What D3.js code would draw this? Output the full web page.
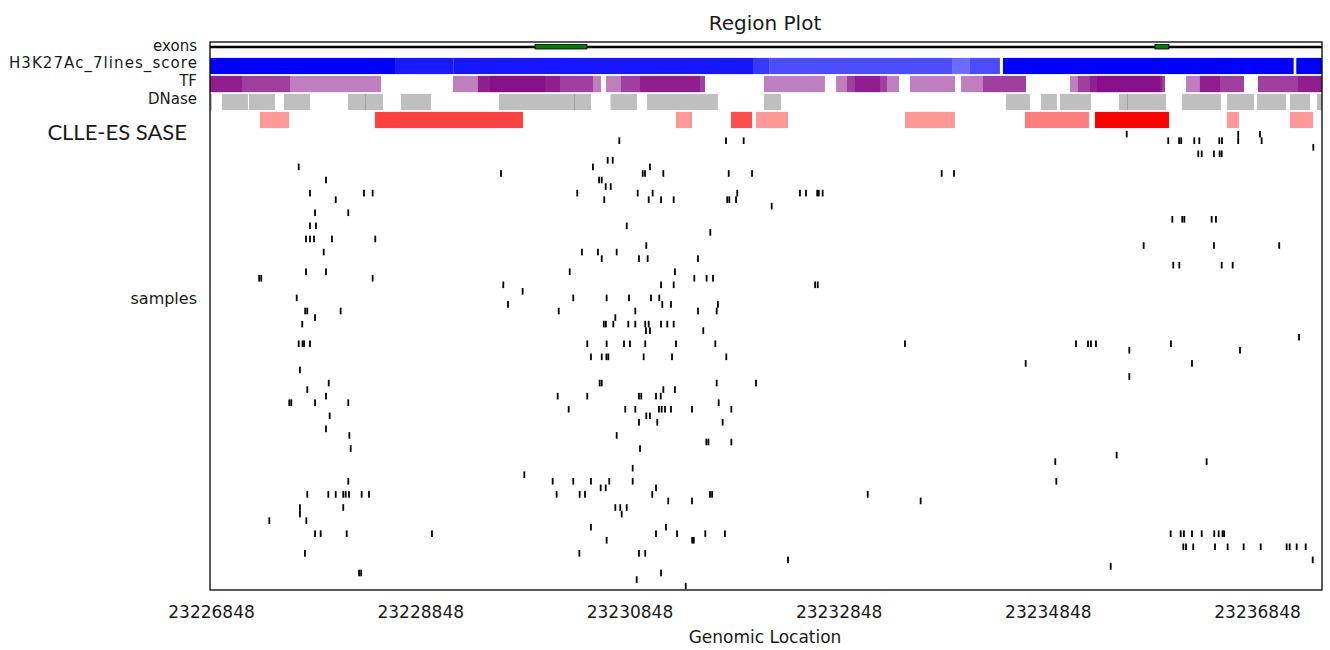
<!DOCTYPE html>
<html>
<head>
<meta charset="utf-8">
<script src="https://cdn.jsdelivr.net/npm/d3@7"></script>
<style>
  body { margin: 0; background: #fff; }
  svg text { font-family: "DejaVu Sans", sans-serif; fill: #1a1a1a; }
</style>
</head>
<body>
<div id="chart"></div>
<script>
const REGION_START = 23226838;
const REGION_END = 23237469;
const tickLabels = [23226848, 23228848, 23230848, 23232848, 23234848, 23236848];
const trackNames = ["H3K27Ac_7lines_score", "TF", "DNase", "CLLE-ES SASE"];

// all positions below are bp from REGION_START
const exons = [[3107, 3604], [9034, 9168]];

// [start, end, score]
const h3k27acScores = [
  [0, 1769, 1], [1769, 2330, 0.9], [2330, 5191, 0.91],
  [5191, 5350, 0.78], [5350, 7100, 0.7], [7100, 7260, 0.58], [7260, 7552, 0.7],
  [7581, 10360, 1], [10385, 10631, 1]
];

const tfPeaks = [
  [0, 1635], [0, 765], [0, 306],
  [2323, 3738], [2562, 3661], [2562, 3346], [2677, 3203],
  [3786, 4732], [3929, 4732], [4111, 4684],
  [5296, 5879],
  [5985, 6587], [6090, 6472], [6166, 6405],
  [6692, 7122],
  [7180, 7801], [7390, 7801],
  [8222, 9130], [8298, 9130], [8413, 9101], [8480, 9082],
  [9331, 9885], [9464, 9885], [9464, 9656],
  [10019, 10631], [10019, 10631], [10401, 10631]
];

const dnasePeaks = [
  [0, 19], [115, 363], [373, 621], [707, 956], [1319, 1491], [1482, 1654],
  [1826, 2113], [2763, 3489], [3480, 3642], [3829, 4082], [4178, 4856],
  [5296, 5459], [7610, 7839], [7944, 8097], [8126, 8422], [8690, 8776],
  [8767, 9140], [9292, 9665], [9723, 9981], [10009, 10287], [10325, 10516],
  [10583, 10700]
];

// [start, end, score]
const saseRegions = [
  [478, 755, 0.4], [1577, 2992, 0.75], [4455, 4608, 0.4], [4981, 5182, 0.7],
  [5220, 5526, 0.4], [6644, 7122, 0.4], [7791, 8403, 0.5], [8461, 9168, 1],
  [9723, 9837, 0.4], [10325, 10545, 0.4]
];

// one list of mutation positions per sample
const sampleMutations = [
  [8764, 9830, 10038],
  [3913, 4933, 5102, 9161, 9265, 9285, 9410, 9458, 9649, 9675, 9830, 10054],
  [10548],
  [9448, 9481, 9598, 9652, 9672],
  [3802, 3850],
  [848, 3661, 4206],
  [2782, 4137, 4159, 4334, 4959, 5182, 6995, 7113],
  [1109, 3720, 3745],
  [3783, 3831],
  [956, 1472, 1555, 3511, 4089, 4232, 5041, 5640, 5698, 5805, 5820, 5857],
  [1202, 3769, 4194, 4312, 4433, 4945, 4965, 5029],
  [5370],
  [1004, 1322],
  [9200, 9295, 9315, 9576, 9617],
  [956, 1013, 3984],
  [4783],
  [918, 956, 994, 1166, 1580],
  [4171, 8926, 9598, 10222],
  [1087, 3556, 3709, 3888],
  [3745, 4101, 4184, 4665],
  [9209, 9267, 9672, 9777],
  [918, 1109, 3439, 4445],
  [470, 490, 1555, 4630, 4748, 4809],
  [2804, 4312, 4433, 5785, 5810],
  [2989],
  [829, 3473, 3792, 4006, 4216, 4295],
  [2849, 4324, 4407, 4856],
  [910, 930, 1249, 3334, 4066, 4665, 4844],
  [1004, 3875],
  [882, 3765, 3785, 3856, 3999, 4066, 4161, 4194, 4312, 4372, 4433],
  [4168, 4206, 4716],
  [10411],
  [848, 885, 900, 956, 3607, 3792, 3958, 4015, 4161, 4455, 4831, 6644, 8279, 8394, 8422, 8470, 9187],
  [8789, 9847],
  [3642, 3745, 3790, 3808, 4146, 4417, 4936],
  [7798, 9388],
  [860],
  [8789],
  [1135, 3725, 3745, 4844, 5220],
  [930, 4334, 4445],
  [1109, 3324, 3607, 4101, 4123, 4264, 4309],
  [758, 777, 1004, 1322, 4863],
  [3429, 3970, 4066, 4292, 4318, 4350, 4407, 4608, 4984],
  [1144, 4171, 4206],
  [4101, 4276, 4901],
  [1109],
  [1332, 3888],
  [4745, 4765, 4984],
  [1345, 4111],
  [8668],
  [8081, 9528],
  [4041],
  [3005],
  [1322, 3276, 3473, 3642, 3817, 4041, 8091],
  [3735, 3783, 4264],
  [930, 1131, 1202, 1274, 1297, 1329, 1450, 1520, 3314, 3534, 3585, 4228, 4780, 4800, 6288],
  [4381, 4608, 6794],
  [860, 1274, 3875, 3922, 3984],
  [860, 3936],
  [567, 921],
  [3642, 4359],
  [1004, 1058, 1307, 2122, 4264, 4465, 4735, 4923, 9184, 9280, 9311, 9388, 9481, 9601, 9643, 9680, 9695],
  [3792, 4610, 4625],
  [9305, 9331, 9400, 9608, 9729, 9882, 10045, 10293, 10322, 10389, 10475],
  [908, 3531, 4101, 4161],
  [5526, 10542],
  [8611],
  [1425, 1445, 4312],
  [4079],
  [4548]
];

const width = 1330;
const height = 650;
const plot = { left: 210, right: 1322, top: 42, bottom: 590 };

const svg = d3.select("#chart").append("svg")
  .attr("width", width)
  .attr("height", height);

const x = d3.scaleLinear()
  .domain([REGION_START, REGION_END])
  .range([plot.left, plot.right]);

const trackY = d3.scaleBand()
  .domain(trackNames)
  .range([57, 129])
  .paddingInner(0.1)
  .paddingOuter(0.05);

const sampleY = d3.scaleLinear()
  .domain([0, sampleMutations.length - 1])
  .range([134.15, 586.1]);

svg.append("clipPath").attr("id", "clip")
  .append("rect")
  .attr("x", plot.left).attr("y", plot.top)
  .attr("width", plot.right - plot.left).attr("height", plot.bottom - plot.top);

const g = svg.append("g").attr("clip-path", "url(#clip)");

function drawTrack(name, data, color, opacity) {
  g.append("g").selectAll("rect").data(data).enter().append("rect")
    .attr("x", d => x(REGION_START + d[0]))
    .attr("width", d => x(REGION_START + d[1]) - x(REGION_START + d[0]))
    .attr("y", trackY(name))
    .attr("height", trackY.bandwidth())
    .attr("fill", color)
    .attr("fill-opacity", opacity);
}

drawTrack("H3K27Ac_7lines_score", h3k27acScores, "#0000ff", d => d[2]);
drawTrack("TF", tfPeaks, "#800080", 0.5);
drawTrack("DNase", dnasePeaks, "#808080", 0.5);
drawTrack("CLLE-ES SASE", saseRegions, "#ff0000", d => d[2]);

// gene body + exons
g.append("line")
  .attr("x1", plot.left).attr("x2", plot.right)
  .attr("y1", 47).attr("y2", 47)
  .attr("stroke", "#000").attr("stroke-width", 2.5);

g.append("g").selectAll("rect").data(exons).enter().append("rect")
  .attr("x", d => x(REGION_START + d[0]))
  .attr("width", d => x(REGION_START + d[1]) - x(REGION_START + d[0]))
  .attr("y", 44.5).attr("height", 4.5)
  .attr("fill", "#008000")
  .attr("stroke", "#000").attr("stroke-width", 0.8);

// mutation ticks per sample
const marks = sampleMutations.flatMap((list, i) => list.map(pos => ({ pos: pos, sample: i })));

g.append("g").selectAll("rect").data(marks).enter().append("rect")
  .attr("x", d => x(REGION_START + d.pos) - 0.9)
  .attr("width", 1.8)
  .attr("y", d => sampleY(d.sample) - 3.3)
  .attr("height", 6.6)
  .attr("fill", "#000");

svg.append("rect")
  .attr("x", plot.left).attr("y", plot.top)
  .attr("width", plot.right - plot.left).attr("height", plot.bottom - plot.top)
  .attr("fill", "none").attr("stroke", "#000").attr("stroke-width", 1.3);

const axis = svg.append("g")
  .attr("transform", `translate(0,${plot.bottom})`)
  .call(d3.axisBottom(x).tickValues(tickLabels).tickFormat(d3.format("d")).tickSize(0));
axis.select(".domain").remove();
axis.selectAll("text")
  .attr("y", 28).attr("dy", null)
  .style("font-size", "17px")
  .style("font-family", "DejaVu Sans, sans-serif")
  .attr("fill", "#1a1a1a");

// track labels
svg.append("text").attr("x", 197).attr("y", 45.5)
  .attr("text-anchor", "end").attr("dominant-baseline", "central")
  .style("font-size", "15px").text("exons");

svg.append("g").selectAll("text").data(trackNames.slice(0, 3)).enter().append("text")
  .attr("x", 197)
  .attr("y", (d, i) => i === 0 ? 63 : trackY(d) + trackY.bandwidth() / 2 - 3)
  .attr("text-anchor", "end").attr("dominant-baseline", "central")
  .style("font-size", "15px")
  .attr("textLength", d => d === "H3K27Ac_7lines_score" ? 188 : null)
  .text(d => d);

svg.append("text").attr("x", 187).attr("y", 140)
  .attr("text-anchor", "end")
  .style("font-family", "Lato, 'Open Sans', sans-serif")
  .style("font-size", "22px")
  .text("CLLE-ES SASE");

svg.append("text").attr("x", 197).attr("y", 298)
  .attr("text-anchor", "end").attr("dominant-baseline", "central")
  .style("font-size", "16px").text("samples");

svg.append("text").attr("x", 765).attr("y", 29.5)
  .attr("text-anchor", "middle")
  .style("font-size", "20px").text("Region Plot");

svg.append("text").attr("x", 765).attr("y", 643)
  .attr("text-anchor", "middle")
  .style("font-size", "17px").text("Genomic Location");
</script>
</body>
</html>
